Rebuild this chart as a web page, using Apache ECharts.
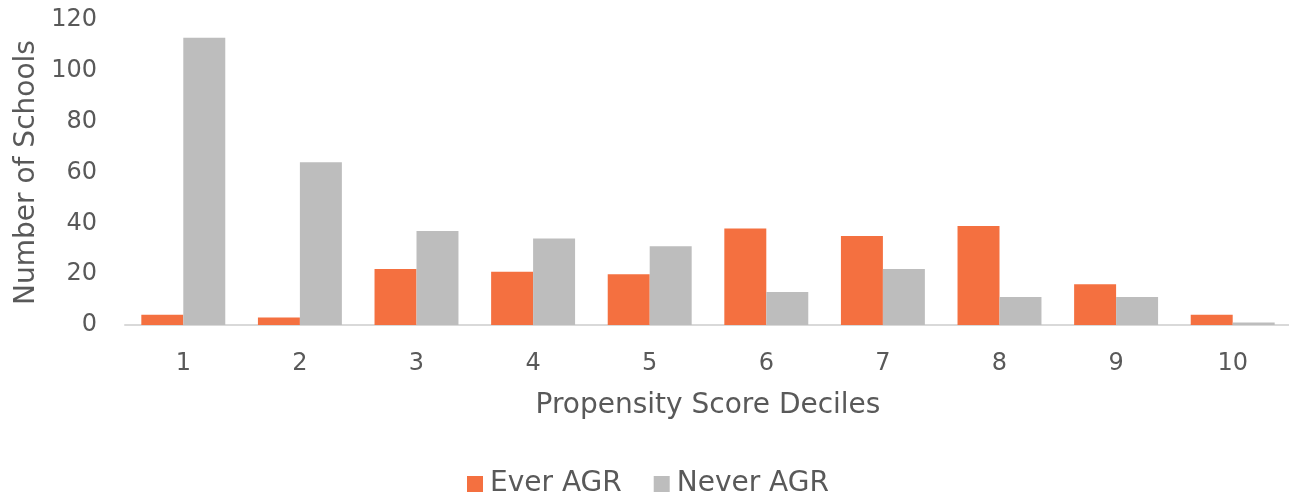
<!DOCTYPE html>
<html>
<head>
<meta charset="utf-8">
<script src="https://cdn.jsdelivr.net/npm/echarts@6/dist/echarts.min.js"></script>
<style>
  html, body { margin: 0; padding: 0; background: #ffffff; }
  #chart { width: 1289px; height: 497px; }
</style>
</head>
<body>
<div id="chart"></div>
<script>
// Propensity score deciles and school counts per group
const deciles = ['1', '2', '3', '4', '5', '6', '7', '8', '9', '10'];
const everAGR = [4, 3, 22, 21, 20, 38, 35, 39, 16, 4];
const neverAGR = [113, 64, 37, 34, 31, 13, 22, 11, 11, 1];
const yTicks = [0, 20, 40, 60, 80, 100, 120];

const FONT = '"DejaVu Sans", sans-serif';
const TEXT = '#595959';

const chart = echarts.init(document.getElementById('chart'), null, { renderer: 'canvas' });
chart.setOption({
  animation: false,
  textStyle: { fontFamily: FONT },
  grid: { left: 125, right: -2, top: 20, bottom: 172, containLabel: false, outerBoundsMode: 'none' },
  legend: {
    top: 465,
    left: 462,
    itemWidth: 16,
    itemHeight: 16,
    itemGap: 32,
    icon: 'rect',
    textStyle: { fontFamily: FONT, fontSize: 28, color: TEXT, padding: [0, 0, 0, 2] },
    data: ['Ever AGR', 'Never AGR']
  },
  xAxis: {
    type: 'category',
    data: deciles,
    name: 'Propensity Score Deciles',
    nameLocation: 'middle',
    nameGap: 67,
    nameTextStyle: { fontFamily: FONT, fontSize: 28, color: TEXT },
    axisLine: { lineStyle: { color: '#D9D9D9', width: 2 } },
    axisTick: { show: false },
    axisLabel: { fontFamily: FONT, fontSize: 24, color: TEXT, margin: 27 }
  },
  yAxis: {
    type: 'value',
    min: yTicks[0],
    max: yTicks[yTicks.length - 1],
    interval: 20,
    name: 'Number of Schools',
    nameLocation: 'middle',
    nameGap: 75,
    nameRotate: 90,
    nameTextStyle: { fontFamily: FONT, fontSize: 28, color: TEXT },
    axisLine: { show: false },
    axisTick: { show: false },
    splitLine: { show: false },
    axisLabel: { fontFamily: FONT, fontSize: 24, color: TEXT, margin: 28 }
  },
  series: [
    {
      name: 'Ever AGR',
      type: 'bar',
      data: everAGR,
      barGap: '0%',
      barCategoryGap: '28%',
      itemStyle: { color: '#F47040' }
    },
    {
      name: 'Never AGR',
      type: 'bar',
      data: neverAGR,
      barGap: '0%',
      barCategoryGap: '28%',
      itemStyle: { color: '#BDBDBD' }
    }
  ]
});
</script>
</body>
</html>
